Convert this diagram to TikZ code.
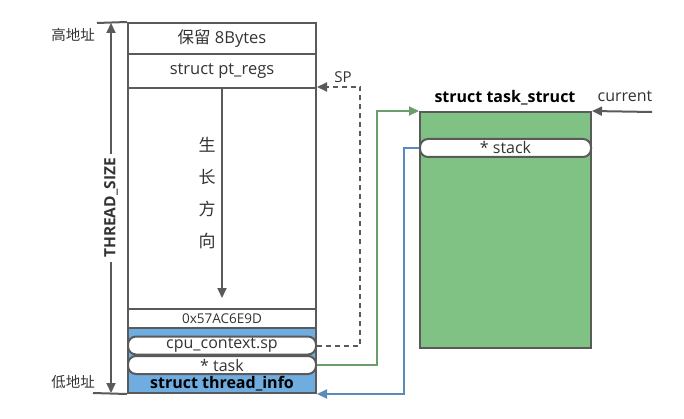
\documentclass[tikz,border=0pt]{standalone}
\usepackage{fontspec}
\setmainfont{Open Sans}
\newfontfamily\cjk{Noto Sans CJK SC}
\usetikzlibrary{arrows.meta,calc}
\definecolor{lg}{HTML}{5A5A5A}
\definecolor{tx}{HTML}{333333}
\definecolor{bfill}{HTML}{6FACE0}
\definecolor{gfill}{HTML}{80C283}
\definecolor{garrow}{HTML}{6A9E6A}
\definecolor{barrow}{HTML}{5A8CBA}
\begin{document}
\begin{tikzpicture}[x=1pt,y=-1pt,
  cell/.style={draw=lg,line width=2pt,minimum width=188pt,inner sep=0pt,text=tx,font=\fontsize{16.5}{18}\selectfont},
  pill/.style={draw=lg,line width=2pt,fill=white,rounded corners=8pt,inner sep=0pt,text=tx,font=\fontsize{16}{18}\selectfont},
  tip/.style={-{Triangle[length=10pt,width=9pt]}},
  lbl/.style={inner sep=0pt,text=tx,font=\fontsize{15}{16}\selectfont},
  cjklbl/.style={inner sep=0pt,font=\cjk\fontsize{14.5}{16}\selectfont,text=tx}]
\useasboundingbox (0,0) rectangle (684,419);
% stack cells
\node[cell,minimum height=31pt] (r1) at (222,38.5) {{\cjk 保留} 8Bytes};
\node[cell,minimum height=34pt] (r2) at (222,71) {struct pt\_regs};
\node[cell,minimum height=221pt] (r3) at (222,198.5) {};
\node[cell,minimum height=19pt,font=\fontsize{13.5}{16}\selectfont] (r4) at (222,318.5) {0x57AC6E9D};
\node[cell,minimum height=65pt,fill=bfill] (r5) at (222,360.5) {};
\node[pill,minimum width=188pt,minimum height=18pt] (p1) at (222,345.5) {cpu\_context.sp};
\node[pill,minimum width=188pt,minimum height=18pt] (p2) at (222,365) {* task};
\node[lbl,text=black,font=\bfseries\fontsize{16}{16}\selectfont] (ti) at (222,384) {struct thread\_info};
% growth direction
\coordinate (gtop) at (222,88);
\coordinate (gbot) at (222,298);
\draw[lg,line width=2pt,tip] (gtop) -- (gbot);
\node[inner sep=0pt,align=center,font=\cjk\fontsize{17}{32}\selectfont,text=tx] (grow) at (207,193) {生\\长\\方\\向};
% thread size
\coordinate (tstop) at (111,23);
\coordinate (tsbot) at (111,393);
\node[lbl,rotate=90,font=\bfseries\fontsize{15.5}{16}\selectfont] (ts) at (111,208) {THREAD\_SIZE};
\draw[lg,line width=2pt,tip] ($(ts.east)+(0,-4)$) -- (tstop);
\draw[lg,line width=2pt,tip] ($(ts.west)+(0,4)$) -- (tsbot);
\coordinate (tk1) at (97,23);
\coordinate (tk2) at (93,393);
\draw[lg,line width=2pt] (tk1) -- (r1.north west);
\draw[lg,line width=2pt] (tk2) -- (r5.south west);
\node[cjklbl] (hi) at (73,35) {高地址};
\node[cjklbl] (lo) at (73,382) {低地址};
% task_struct
\node[draw=lg,line width=2pt,fill=gfill,minimum width=171pt,minimum height=236pt,inner sep=0pt] (task) at (505.5,230) {};
\node[pill,minimum width=171pt,minimum height=18pt] (stk) at (505.5,148) {* stack};
\node[lbl,text=black,font=\bfseries\fontsize{16}{16}\selectfont] (tt) at (505,98) {struct task\_struct};
\coordinate (cur) at (652,112);
\draw[lg,line width=2pt,tip] (cur) -- (task.north east);
\node[lbl,font=\fontsize{16}{16}\selectfont] (curl) at (625,96) {current};
% connectors
\draw[lg,line width=2pt,dashed,dash pattern=on 5pt off 4pt,tip] (p1.east) -- ++(43,0) |- (r3.north east);
\node[lbl] (spl) at (343,77) {SP};
\draw[garrow,line width=2pt,tip] (p2.east) -- ++(60,0) |- (task.north west);
\draw[barrow,line width=2pt,tip] (stk.west) -- ++(-15,0) |- (r5.south east);
\end{tikzpicture}
\end{document}
